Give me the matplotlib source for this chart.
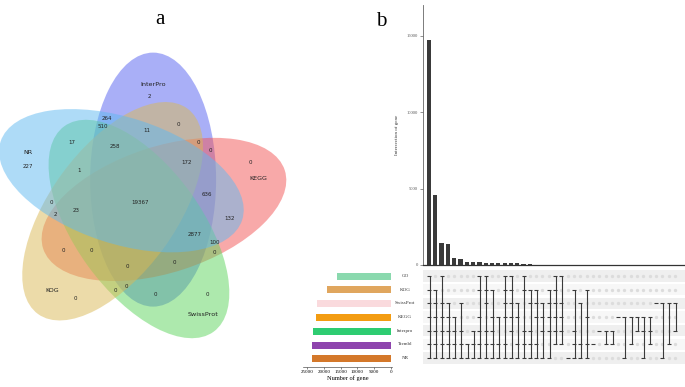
### Venn diagram (a) + UpSet plot (b) of gene annotation ###
import matplotlib
matplotlib.use('Agg')
import matplotlib.pyplot as plt
import matplotlib.transforms as mtransforms
from matplotlib.patches import Ellipse
import numpy as np

##### data #####
# five-set venn
venn_sets = ['InterPro', 'KEGG', 'SwissProt', 'KOG', 'NR']
venn_colors = ['#5561f1', '#f35555', '#5dd55d', '#dab955', '#5fb9f1']
venn_counts = [2, 264, 510, 0, 11, 17, 258, 0, 0, 227, 0, 172, 1, 19367, 636,
               0, 2, 23, 132, 2877, 100, 0, 0, 0, 0, 0, 0, 0, 0, 0, 0]

# upset: set sizes (top to bottom)
set_names = ['GO', 'KOG', 'SwissProt', 'KEGG', 'Interpro', 'Trembl', 'NR']
set_sizes = [16100, 19000, 22100, 22300, 23100, 23500, 23500]
set_colors = ['#8ad9ae', '#e0a65e', '#fadadd', '#f39c12', '#2ecc71', '#8e44ad', '#d4782a']

# upset: intersection sizes and membership (GO,KOG,SwissProt,KEGG,Interpro,Trembl,NR)
inter_sizes = [14700, 4600, 1450, 1400, 470, 370, 210, 180, 170, 150, 150, 140, 140, 130,
               110, 90, 60, 20, 10, 8, 6, 5, 4, 3, 3, 2, 2, 2,
               1, 1, 1, 1, 1, 1, 1, 1, 1, 1, 1, 1]
inter_members = ['1111111', '0111111', '1011111', '0011111', '0001111', '0010111', '0000011',
                 '0000111', '1101111', '1110111', '0101111', '0001011', '1111011', '1111101',
                 '0011011', '1100111', '0110111', '0111011', '0011101', '0111101', '1111110',
                 '1011110', '0000001', '0100111', '0010011', '0101011', '0000010', '0000100',
                 '0000110', '0000110', '0001000', '0001001', '0001010', '0001100', '0001101',
                 '0001110', '0010000', '0010001', '0010010', '0010100']

##### layout (pixels of the 685x387 picture) #####
W, H = 685, 387
venn_center = (138, 202)
venn_offset = 27
venn_angles = [90, 18, -54, 234, 162]      # major axis direction of each ellipse
venn_a, venn_b = 127, 63
set_label_pos = [(153, 84), (258, 179), (203, 315), (52, 290), (28, 152)]
count_pos = [(149, 96), (107, 118), (103, 127), (178, 124), (147, 131), (72, 143),
             (115, 147), (198, 142), (210, 151), (28, 167), (250, 163), (187, 163),
             (79, 171), (140, 203), (207, 195), (51, 203), (55, 215), (76, 211),
             (230, 219), (195, 235), (215, 242), (214, 252), (63, 251), (91, 251),
             (174, 262), (127, 267), (115, 290), (126, 286), (155, 295), (207, 295),
             (75, 298)]

serif = 'Liberation Serif'

fig = plt.figure(figsize=(W / 100, H / 100), dpi=100)

### a) venn ###
ax_v = fig.add_axes([0, 0, 1, 1])
ax_v.set_xlim(0, W)
ax_v.set_ylim(H, 0)
ax_v.axis('off')
for ang, col in zip(venn_angles, venn_colors):
    off = np.deg2rad(ang - 34)
    cx = venn_center[0] + venn_offset * np.cos(off)
    cy = venn_center[1] - venn_offset * np.sin(off)
    ax_v.add_patch(Ellipse((cx, cy), 2 * venn_a, 2 * venn_b, angle=-ang,
                           facecolor=col, alpha=0.5, lw=0))
for name, (x, y) in zip(venn_sets, set_label_pos):
    ax_v.text(x, y, name, ha='center', va='center', fontsize=4.6, color='#222222')
for n, (x, y) in zip(venn_counts, count_pos):
    ax_v.text(x, y, str(n), ha='center', va='center', fontsize=4, color='#222222')

fig.text(160 / W, 1 - 19 / H, 'a', fontsize=15, family=serif, ha='center', va='center')
fig.text(381 / W, 1 - 21 / H, 'b', fontsize=15, family=serif, ha='center', va='center')

### b) upset ###
xs = np.arange(len(inter_sizes))
xlim = (-0.95, 40.6)
ylim_rows = (6.585, -0.585)

# intersection bars
ax_bar = fig.add_axes([423 / W, 1 - 265 / H, 262 / W, 260 / H])
ax_bar.bar(xs, inter_sizes, width=0.68, color='#3a3a3a')
ax_bar.set_xlim(xlim)
ax_bar.set_ylim(0, 17000)
ax_bar.spines[['top', 'right']].set_visible(False)
ax_bar.spines['left'].set_color('#666666')
ax_bar.spines['left'].set_linewidth(0.6)
ax_bar.spines['bottom'].set_color('#333333')
ax_bar.spines['bottom'].set_linewidth(0.9)
ax_bar.set_xticks([])
ax_bar.set_yticks([0, 5000, 10000, 15000])
ax_bar.tick_params(axis='y', labelsize=3.3, length=2, width=0.5, color='#666666',
                   labelcolor='#555555', pad=1.5)
for lab in ax_bar.get_yticklabels():
    lab.set_family(serif)
ax_bar.set_ylabel('Intersection of gene', fontsize=3.6, family=serif, color='#333333', labelpad=6)

# matrix
ax_m = fig.add_axes([423 / W, 1 - 366 / H, 262 / W, 98 / H])
ax_m.set_xlim(xlim)
ax_m.set_ylim(ylim_rows)
ax_m.axis('off')
for r in range(len(set_names)):
    ax_m.axhspan(r - 0.42, r + 0.42, color='#efefef' if r % 2 == 0 else '#f7f7f7', lw=0)
for i, mem in enumerate(inter_members):
    rows_in = [r for r, c in enumerate(mem) if c == '1']
    rows_out = [r for r, c in enumerate(mem) if c == '0']
    ax_m.plot([i] * len(rows_out), rows_out, 'o', ms=2.4, color='#dcdcdc', mew=0)
    ax_m.plot([i + 0.12, i + 0.12], [min(rows_in), max(rows_in)], color='#3a3a3a', lw=0.8,
              solid_capstyle='butt')
    ax_m.plot([i] * len(rows_in), rows_in, ls='none', marker='_', ms=2.2, mew=0.8, color='#3a3a3a')

# set names between set-size bars and matrix
trans = mtransforms.blended_transform_factory(fig.transFigure, ax_m.transData)
for r, name in enumerate(set_names):
    ax_m.text(405 / W, r, name, transform=trans, ha='center', va='center',
              fontsize=3.6, family=serif, color='#333333')

# set sizes
ax_s = fig.add_axes([303 / W, 1 - 367 / H, 89 / W, 99 / H])
ax_s.barh(np.arange(len(set_names)), set_sizes, height=0.5, color=set_colors)
ax_s.set_xlim(26200, -300)
ax_s.set_ylim(ylim_rows)
ax_s.spines[['top', 'right', 'left']].set_visible(False)
ax_s.spines['bottom'].set_linewidth(0.5)
ax_s.spines['bottom'].set_color('#555555')
ax_s.set_yticks([])
ax_s.set_xticks([25000, 20000, 15000, 10000, 5000, 0])
ax_s.tick_params(axis='x', labelsize=3.6, length=1.5, width=0.5, pad=1, color='#555555')
for lab in ax_s.get_xticklabels():
    lab.set_family(serif)
ax_s.set_xlabel('Number of gene', fontsize=4.6, family=serif, labelpad=1)

fig.savefig('out.png', dpi=100)
